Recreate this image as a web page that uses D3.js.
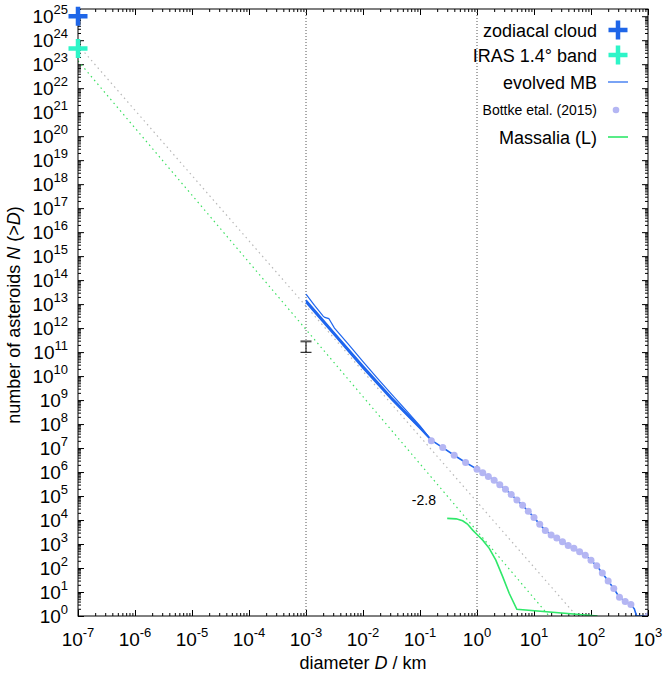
<!DOCTYPE html>
<html>
<head>
<meta charset="utf-8">
<script src="https://cdn.jsdelivr.net/npm/d3@7/dist/d3.min.js"></script>
<style>
  html, body { margin: 0; padding: 0; background: #fff; }
  svg { display: block; font-family: "Liberation Sans", Arial, Helvetica, sans-serif; }
</style>
</head>
<body>
<svg id="chart" width="663" height="675"></svg>
<script>
// ---- data -------------------------------------------------------------
// Observed points at D = 1e-7 km
const zodiacalD = [1e-7];
const zodiacalN = [1e25];
const irasD = [1e-7];
const irasN = [4.5e23];

// Power-law guide lines (grey: through IRAS level, green: slope -2.8)
const grayD = [1e-7, 56];
const grayN = [6.3e23, 1];
const greenD = [1e-7, 18.4];
const greenN = [1.38e23, 1];

// Error bar at D = 1 m
const errD = 1e-3;
const errLo = 9.8e10;
const errHi = 2.8e11;

// Evolved main belt: several runs from D = 1 m upward
const mbSmallD = [0.001, 0.00178, 0.00316, 0.00562, 0.01, 0.0178, 0.0316, 0.0562, 0.1, 0.126, 0.158];
const mbMainN  = [1.32e13, 2.75e12, 5.6e11, 1.17e11, 2.4e10, 5.2e9, 1.17e9, 2.8e8, 7.1e7, 3.8e7, 2.14e7];
const mbUpperD = [0.001, 0.00141, 0.002, 0.00214, 0.00251, 0.00316, 0.00562, 0.01, 0.0178, 0.0316, 0.0562, 0.1, 0.126, 0.158];
const mbUpperN = [2.63e13, 8.9e12, 3.16e12, 2.8e12, 2.5e12, 1.0e12, 2.04e11, 4.0e10, 8.3e9, 1.78e9, 3.9e8, 8.5e7, 4.2e7, 2.14e7];
const mbSecondD = [0.001, 0.00316, 0.01, 0.0316, 0.1, 0.158];
const mbSecondN = [1.48e13, 6.3e11, 2.7e10, 1.32e9, 7.8e7, 2.14e7];
const mbLowerD = [0.001, 0.00316, 0.01, 0.0316, 0.1, 0.158];
const mbLowerN = [1.17e13, 5.0e11, 2.14e10, 1.05e9, 6.5e7, 2.1e7];
// Large-size part of the main run
const mbLargeD = [0.251, 0.398, 0.631, 1, 1.26, 1.58, 2.0, 2.51, 3.16, 3.98, 5.01, 6.31, 7.94, 10, 12.6, 15.8, 20, 25.1, 31.6, 39.8, 50.1, 63.1, 79.4, 100, 126, 158, 200, 251, 316, 398, 501, 575, 631, 1000];
const mbLargeN = [1.05e7, 5.0e6, 2.5e6, 1.32e6, 9.3e5, 6.6e5, 4.5e5, 2.95e5, 1.9e5, 1.17e5, 6.8e4, 4.1e4, 2.3e4, 1.29e4, 6600, 3700, 2400, 1780, 1230, 870, 660, 480, 340, 210, 123, 62, 29, 14, 6, 4, 3, 2, 1, 1];

// Bottke et al. (2015) main-belt distribution
const bottkeD = [0.158, 0.251, 0.398, 0.631, 1, 1.26, 1.58, 2.0, 2.51, 3.16, 3.98, 5.01, 6.31, 7.94, 10, 12.6, 15.8, 20, 25.1, 31.6, 39.8, 50.1, 63.1, 79.4, 100, 126, 158, 200, 251, 316, 398, 501, 1000];
const bottkeN = [2.04e7, 1.05e7, 5.0e6, 2.5e6, 1.32e6, 9.3e5, 6.6e5, 4.5e5, 2.95e5, 1.9e5, 1.17e5, 6.8e4, 4.1e4, 2.3e4, 1.29e4, 6600, 3700, 2400, 1780, 1230, 870, 660, 480, 340, 210, 123, 62, 29, 14, 6, 4, 3, 1];

// Massalia family (L)
const massaliaD = [0.30, 0.43, 0.56, 0.68, 0.84, 1.0, 1.26, 1.64, 2.14, 2.82, 3.67, 5.0, 130];
const massaliaN = [11750, 11200, 9300, 6800, 3800, 2500, 1450, 660, 214, 44, 8.9, 1.9, 1];

// Axis decades
const xDecades = d3.range(-7, 4);
const yDecades = d3.range(0, 26);

// Legend entries
const legendLabels = ["zodiacal cloud", "IRAS 1.4° band", "evolved MB", "Bottke etal. (2015)", "Massalia (L)"];

// ---- layout -------------------------------------------------------------
const svg = d3.select("#chart");
const pL = 78, pR = 648, pT = 9, pB = 616;
const FONT = "\"Liberation Sans\", Arial, Helvetica, sans-serif";

const x = d3.scaleLog().domain([1e-7, 1e3]).range([pL, pR]);
const y = d3.scaleLog().domain([1, 2e25]).range([pB, pT]);

const C = {
  blue: "#1f66ee",
  zodi: "#1f66e8",
  iras: "#2df5c8",
  bottke: "#b4b6f3",
  green: "#2fe86a",
  greenDot: "#3ae060",
  gray: "#b8b8b8"
};

svg.append("defs").append("clipPath").attr("id", "plotclip")
  .append("rect").attr("x", pL).attr("y", pT)
  .attr("width", pR - pL).attr("height", pB - pT);

// ---- ticks --------------------------------------------------------------
const xMajor = xDecades.map(e => Math.pow(10, e));
const xMinor = [];
xDecades.slice(0, -1).forEach(e => { for (let k = 2; k <= 9; k++) xMinor.push(k * Math.pow(10, e)); });
const yMajor = yDecades.map(e => Math.pow(10, e));
const yMinor = [];
yDecades.forEach(e => { for (let k = 2; k <= 9; k++) { const v = k * Math.pow(10, e); if (v <= 2e25) yMinor.push(v); } });

function tickGroup(axis, tx, ty) {
  const g = svg.append("g").attr("transform", `translate(${tx},${ty})`).call(axis);
  g.select(".domain").remove();
  g.selectAll("line").attr("stroke", "#000").attr("stroke-width", 1);
  g.selectAll("text").remove();
  return g;
}
tickGroup(d3.axisBottom(x).tickValues(xMajor).tickSize(-6).tickFormat(""), 0, pB);
tickGroup(d3.axisBottom(x).tickValues(xMinor).tickSize(-3).tickFormat(""), 0, pB);
tickGroup(d3.axisTop(x).tickValues(xMajor).tickSize(-6).tickFormat(""), 0, pT);
tickGroup(d3.axisTop(x).tickValues(xMinor).tickSize(-3).tickFormat(""), 0, pT);
tickGroup(d3.axisLeft(y).tickValues(yMajor).tickSize(-6).tickFormat(""), pL, 0);
tickGroup(d3.axisLeft(y).tickValues(yMinor).tickSize(-3).tickFormat(""), pL, 0);
tickGroup(d3.axisRight(y).tickValues(yMajor).tickSize(-6).tickFormat(""), pR, 0);
tickGroup(d3.axisRight(y).tickValues(yMinor).tickSize(-3).tickFormat(""), pR, 0);

// tick labels with superscript exponents
const xl = svg.append("g").attr("font-family", FONT);
xDecades.forEach(e => {
  const t = xl.append("text").attr("x", x(Math.pow(10, e))).attr("y", pB + 30)
    .attr("text-anchor", "middle").attr("font-size", 19).attr("fill", "#000");
  t.append("tspan").text("10");
  t.append("tspan").attr("dy", -9).attr("font-size", 13).text(String(e));
});
const yl = svg.append("g").attr("font-family", FONT);
yDecades.forEach(e => {
  const t = yl.append("text").attr("x", 68).attr("y", y(Math.pow(10, e)) + 7)
    .attr("text-anchor", "end").attr("font-size", 19).attr("fill", "#000");
  t.append("tspan").text("10");
  t.append("tspan").attr("dy", -9).attr("font-size", 13).text(String(e));
});

// axis titles
const xt = svg.append("text").attr("x", (pL + pR) / 2).attr("y", 669)
  .attr("text-anchor", "middle").attr("font-size", 18).attr("font-family", FONT);
xt.append("tspan").text("diameter ");
xt.append("tspan").attr("font-style", "italic").text("D");
xt.append("tspan").text(" / km");

const yt = svg.append("text").attr("transform", "translate(20,315) rotate(-90)")
  .attr("text-anchor", "middle").attr("font-size", 18).attr("font-family", FONT);
yt.append("tspan").text("number of asteroids ");
yt.append("tspan").attr("font-style", "italic").text("N");
yt.append("tspan").text(" (>");
yt.append("tspan").attr("font-style", "italic").text("D");
yt.append("tspan").text(")");

// ---- plot contents --------------------------------------------------------
const plot = svg.append("g").attr("clip-path", "url(#plotclip)");
const line = d3.line().x(d => x(d[0])).y(d => y(d[1]));
const zip = (a, b) => a.map((v, i) => [v, b[i]]);

// reference verticals at 1 m and 1 km
[1e-3, 1].forEach(v => {
  plot.append("line").attr("x1", x(v)).attr("x2", x(v)).attr("y1", pT).attr("y2", pB)
    .attr("stroke", "#555").attr("stroke-width", 1).attr("stroke-dasharray", "1,2");
});

// power-law guides
plot.append("path").datum(zip(grayD, grayN)).attr("d", line)
  .attr("fill", "none").attr("stroke", C.gray).attr("stroke-width", 1.2).attr("stroke-dasharray", "1.5,3.5");
plot.append("path").datum(zip(greenD, greenN)).attr("d", line)
  .attr("fill", "none").attr("stroke", C.greenDot).attr("stroke-width", 1.2).attr("stroke-dasharray", "1.5,3.5");

// error bar at 1 m
const ex = x(errD);
plot.append("line").attr("x1", ex).attr("x2", ex).attr("y1", y(errHi)).attr("y2", y(errLo))
  .attr("stroke", "#000").attr("stroke-width", 1);
plot.append("line").attr("x1", ex - 5.5).attr("x2", ex + 5.5).attr("y1", y(errHi)).attr("y2", y(errHi))
  .attr("stroke", "#555").attr("stroke-width", 2);
plot.append("line").attr("x1", ex - 5.5).attr("x2", ex + 5.5).attr("y1", y(errLo)).attr("y2", y(errLo))
  .attr("stroke", "#000").attr("stroke-width", 1);

// evolved MB runs
[[mbSecondD, mbSecondN, 1.5], [mbLowerD, mbLowerN, 1.5], [mbUpperD, mbUpperN, 1.2]].forEach(([dd, nn, w]) => {
  plot.append("path").datum(zip(dd, nn)).attr("d", line)
    .attr("fill", "none").attr("stroke", C.blue).attr("stroke-width", w);
});
plot.append("path").datum(zip(mbSmallD.concat(mbLargeD), mbMainN.concat(mbLargeN))).attr("d", line)
  .attr("fill", "none").attr("stroke", C.blue).attr("stroke-width", 1.6);

// Bottke et al. points
plot.selectAll("circle.bottke").data(zip(bottkeD, bottkeN)).join("circle")
  .attr("class", "bottke").attr("cx", d => x(d[0])).attr("cy", d => y(d[1]))
  .attr("r", 3.5).attr("fill", C.bottke);

// Massalia family
plot.append("path").datum(zip(massaliaD, massaliaN)).attr("d", line)
  .attr("fill", "none").attr("stroke", C.green).attr("stroke-width", 1.6);

// slope annotation
svg.append("text").attr("x", x(0.117)).attr("y", y(4.2e4)).attr("text-anchor", "middle")
  .attr("font-size", 14).attr("font-family", FONT).text("-2.8");

// frame
svg.append("rect").attr("x", pL).attr("y", pT).attr("width", pR - pL).attr("height", pB - pT)
  .attr("fill", "none").attr("stroke", "#000").attr("stroke-width", 1);

// plus markers (drawn over the frame)
function plus(g, cx, cy, color) {
  g.append("path").attr("d", `M${cx - 9.5},${cy}H${cx + 9.5}M${cx},${cy - 9.5}V${cy + 9.5}`)
    .attr("stroke", color).attr("stroke-width", 4.5).attr("fill", "none");
}
zip(zodiacalD, zodiacalN).forEach(d => plus(svg, x(d[0]), y(d[1]), C.zodi));
zip(irasD, irasN).forEach(d => plus(svg, x(d[0]), y(d[1]), C.iras));

// ---- legend ---------------------------------------------------------------
const lg = svg.append("g").attr("font-family", FONT);
const rowY = [30, 55, 82, 110, 137];
const textRight = 597, sampleX = 618;
legendLabels.forEach((lab, i) => {
  const small = i === 3;
  lg.append("text").attr("x", textRight).attr("y", rowY[i] + (small ? 5 : 6.5))
    .attr("text-anchor", "end").attr("font-size", small ? 14 : 18).text(lab);
});
plus(lg, sampleX, rowY[0], C.zodi);
plus(lg, sampleX, rowY[1], C.iras);
lg.append("line").attr("x1", 608).attr("x2", 628).attr("y1", rowY[2]).attr("y2", rowY[2])
  .attr("stroke", C.blue).attr("stroke-width", 1.2);
lg.append("circle").attr("cx", sampleX - 2).attr("cy", rowY[3]).attr("r", 3.3).attr("fill", C.bottke);
lg.append("line").attr("x1", 608).attr("x2", 628).attr("y1", rowY[4]).attr("y2", rowY[4])
  .attr("stroke", C.green).attr("stroke-width", 1.6);
</script>
</body>
</html>
